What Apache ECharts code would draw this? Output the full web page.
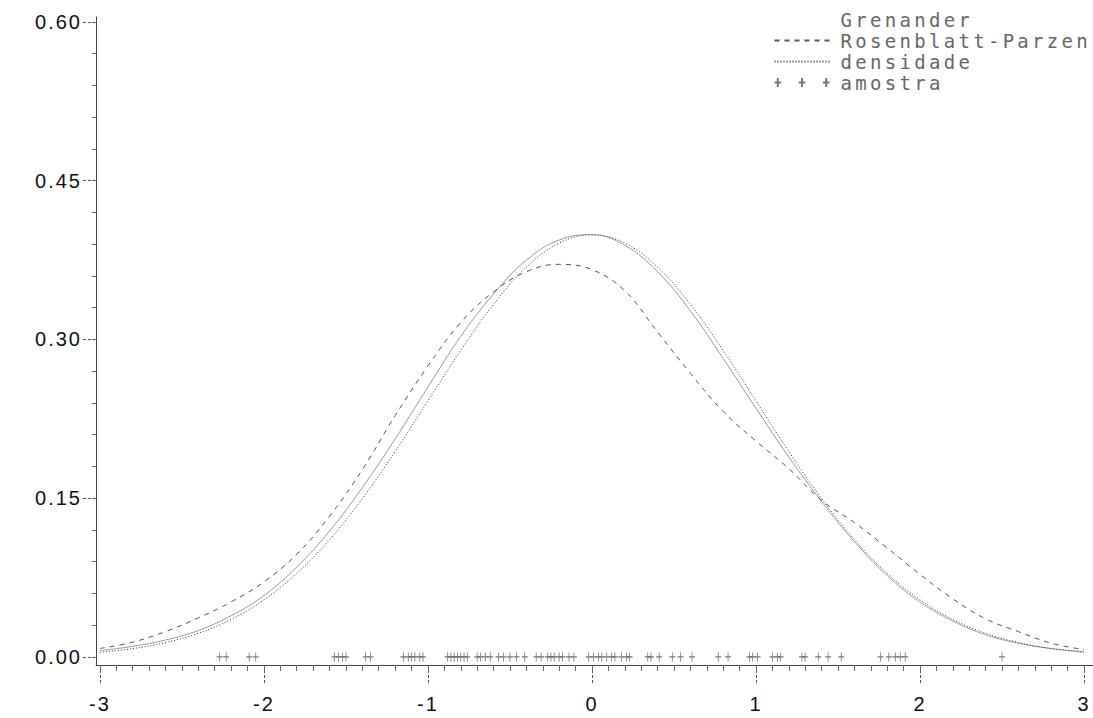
<!DOCTYPE html>
<html><head><meta charset="utf-8">
<script src="https://cdn.jsdelivr.net/npm/echarts@6/dist/echarts.min.js"></script>
<style>
html,body{margin:0;padding:0;background:#fff}
#c{width:1093px;height:718px}
text[style*="Mono"]{letter-spacing:3.3px}
text[style*="Liberation"]{letter-spacing:2px}
</style></head><body><div id="c"></div>
<script>
// grid of x values at which the curves were read
const xGrid = [-3.0,-2.8,-2.6,-2.4,-2.2,-2.0,-1.8,-1.6,-1.4,-1.2,-1.0,-0.8,-0.6,-0.4,-0.2,0.0,0.2,0.4,0.6,0.8,1.0,1.2,1.4,1.6,1.8,2.0,2.2,2.4,2.6,2.8,3.0];
const grenander = [0.006,0.010,0.016,0.025,0.039,0.058,0.085,0.119,0.160,0.206,0.255,0.303,0.343,0.375,0.394,0.399,0.389,0.364,0.327,0.282,0.235,0.189,0.147,0.109,0.077,0.052,0.034,0.021,0.013,0.008,0.005];
const rosenblatt = [0.008,0.014,0.024,0.037,0.052,0.071,0.097,0.133,0.177,0.228,0.275,0.316,0.345,0.364,0.371,0.366,0.346,0.307,0.268,0.232,0.204,0.178,0.148,0.127,0.103,0.078,0.055,0.036,0.024,0.013,0.007];
const densidade = [0.0044,0.0079,0.0136,0.0224,0.0355,0.0540,0.0790,0.1109,0.1497,0.1942,0.2420,0.2897,0.3332,0.3683,0.3910,0.3989,0.3910,0.3683,0.3332,0.2897,0.2420,0.1942,0.1497,0.1109,0.0790,0.0540,0.0355,0.0224,0.0136,0.0079,0.0044];
const amostra = [-2.27,-2.23,-2.09,-2.05,-1.57,-1.545,-1.52,-1.50,-1.38,-1.35,-1.15,-1.12,-1.10,-1.08,-1.05,-1.03,-0.88,-0.86,-0.84,-0.82,-0.80,-0.78,-0.76,-0.70,-0.68,-0.65,-0.62,-0.57,-0.54,-0.50,-0.46,-0.41,-0.34,-0.31,-0.27,-0.25,-0.23,-0.20,-0.18,-0.14,-0.11,-0.02,0.01,0.04,0.06,0.09,0.12,0.14,0.18,0.21,0.23,0.34,0.36,0.41,0.49,0.54,0.61,0.77,0.83,0.96,0.98,1.01,1.10,1.13,1.15,1.28,1.30,1.38,1.44,1.52,1.76,1.81,1.85,1.88,1.91,2.50];
const xTickLabels = [-3,-2,-1,0,1,2,3];
const yTickLabels = [0,0.15,0.30,0.45,0.60];
const seriesNames = ['Grenander','Rosenblatt-Parzen','densidade','amostra'];

const xMinorTicks = []; for (let i = -30; i <= 30; i++) xMinorTicks.push(i/10);
const yMinorTicks = []; for (let i = 0; i <= 20; i++) yMinorTicks.push(i*3/100);

const X_MIN = -3.024, X_MAX = 3.055, Y_MIN = -0.0076, Y_MAX = 0.6047;
const pair = arr => xGrid.map((x,i)=>[x,arr[i]]);

const chart = echarts.init(document.getElementById('c'), null, {renderer:'svg'});
const axisFont = 'Liberation Sans';
chart.setOption({
  animation:false,
  backgroundColor:'#ffffff',
  grid:{left:96,right:0,top:17,bottom:53},
  xAxis:[
    {type:'value',min:X_MIN,max:X_MAX,position:'bottom',
     axisLine:{show:true,onZero:false,lineStyle:{color:'#444',width:1}},
     axisTick:{show:true,customValues:xTickLabels,length:20,lineStyle:{color:'#555',width:1,type:[3,2]}},
     axisLabel:{show:true,customValues:xTickLabels,margin:29,fontFamily:axisFont,fontSize:20,color:'#111',formatter:v=>String(v)},
     splitLine:{show:false}},
    {type:'value',min:X_MIN,max:X_MAX,position:'bottom',
     axisLine:{show:false,onZero:false},
     axisTick:{show:true,customValues:xMinorTicks,length:6,lineStyle:{color:'#666',width:1}},
     axisLabel:{show:false},splitLine:{show:false}}
  ],
  yAxis:[
    {type:'value',min:Y_MIN,max:Y_MAX,position:'left',
     axisLine:{show:true,onZero:false,lineStyle:{color:'#444',width:1}},
     axisTick:{show:true,customValues:yTickLabels,length:14,lineStyle:{color:'#555',width:1,type:[3,2]}},
     axisLabel:{show:true,customValues:yTickLabels,margin:14,fontFamily:axisFont,fontSize:20,color:'#111',formatter:v=>v.toFixed(2)},
     splitLine:{show:false}},
    {type:'value',min:Y_MIN,max:Y_MAX,position:'left',
     axisLine:{show:false,onZero:false},
     axisTick:{show:true,customValues:yMinorTicks,length:4,lineStyle:{color:'#666',width:1}},
     axisLabel:{show:false},splitLine:{show:false}}
  ],
  legend:{
    orient:'vertical',left:767,top:5,itemWidth:55,itemHeight:12,itemGap:2,selectedMode:false,
    textStyle:{fontFamily:'DejaVu Sans Mono',fontSize:19,color:'#666',padding:[0,0,0,6]},
    data:[
      {name:seriesNames[0],icon:'none',lineStyle:{opacity:0}},
      {name:seriesNames[1],itemStyle:{opacity:0}},
      {name:seriesNames[2],itemStyle:{opacity:0}},
      {name:seriesNames[3],icon:'path://M0,4H6M3,0V8M22,4H28M25,0V8M44,4H50M47,0V8'}
    ]
  },
  series:[
    {name:seriesNames[0],type:'line',data:pair(grenander),smooth:0.4,showSymbol:false,symbol:'none',
     lineStyle:{color:'#9a9a9a',width:1}},
    {name:seriesNames[1],type:'line',data:pair(rosenblatt),smooth:0.4,showSymbol:false,symbol:'none',
     lineStyle:{color:'#555',width:1,type:[5,5]}},
    {name:seriesNames[2],type:'line',data:pair(densidade),smooth:0.4,showSymbol:false,symbol:'none',
     lineStyle:{color:'#333',width:1,type:[1,2]}},
    {name:seriesNames[3],type:'scatter',data:amostra.map(x=>[x,0]),
     symbol:'path://M0,4H6M3,0V8',symbolSize:[6,9],
     itemStyle:{color:'none',borderColor:'#555',borderWidth:1}}
  ]
});
</script></body></html>
